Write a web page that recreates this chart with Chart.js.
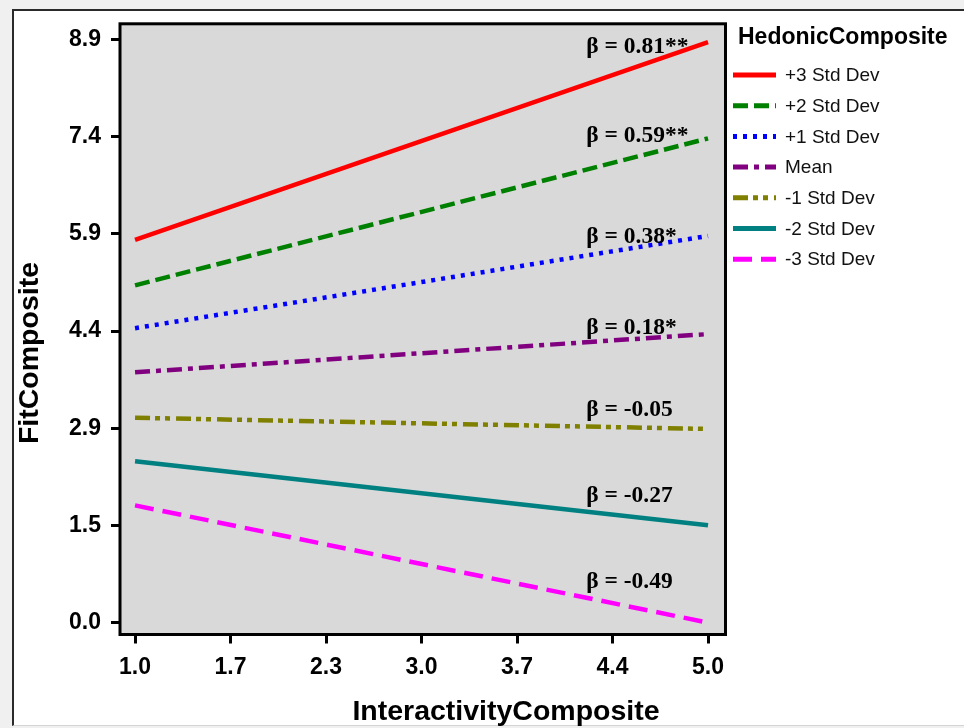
<!DOCTYPE html>
<html>
<head>
<meta charset="utf-8">
<script src="https://cdn.jsdelivr.net/npm/chart.js@4/dist/chart.umd.min.js"></script>
<style>
html, body { margin: 0; padding: 0; background: #f0f0f0; }
#frame { position: absolute; left: 12px; top: 9px; width: 950px; height: 714px; background: #fff;
         border-top: 2px solid #2a2a2a; border-left: 2px solid #2a2a2a; border-bottom: 1px solid #d4d4d4; }
#chart { position: absolute; left: 0; top: 0; }
</style>
</head>
<body>
<div id="frame"></div>
<canvas id="chart" width="964" height="728"></canvas>
<script>
// interactivity values at the two ends of each line
const xValues = [1, 5];

const seriesNames = ["+3 Std Dev", "+2 Std Dev", "+1 Std Dev", "Mean", "-1 Std Dev", "-2 Std Dev", "-3 Std Dev"];
const plus3 = [5.81, 8.81];
const plus2 = [5.12, 7.35];
const plus1 = [4.47, 5.87];
const mean = [3.80, 4.38];
const minus1 = [3.11, 2.94];
const minus2 = [2.45, 1.48];
const minus3 = [1.78, 0.0];

const betaText = ["β = 0.81**", "β = 0.59**", "β = 0.38*", "β = 0.18*", "β = -0.05", "β = -0.27", "β = -0.49"];
const betaX = 4.15;
const betaY = [8.74, 7.39, 5.86, 4.47, 3.23, 1.93, 0.62];

const xTickValues = [1, 1.6667, 2.3333, 3, 3.6667, 4.3333, 5];
const xTickLabels = ["1.0", "1.7", "2.3", "3.0", "3.7", "4.4", "5.0"];
const yTickValues = [0, 1.475, 2.95, 4.425, 5.9, 7.375, 8.85];
const yTickLabels = ["0.0", "1.5", "2.9", "4.4", "5.9", "7.4", "8.9"];

const colors = ["#ff0000", "#008000", "#0000ff", "#800080", "#808000", "#008080", "#ff00ff"];
const dashes = [[], [15, 6], [4, 6], [15, 6, 5, 6], [15, 5, 5, 5, 5, 6], [], [19, 9]];

const allSeries = [plus3, plus2, plus1, mean, minus1, minus2, minus3];

const plotFrame = {
    id: "plotFrame",
    beforeDatasetsDraw(chart) {
        const { ctx, chartArea: a } = chart;
        ctx.save();
        ctx.fillStyle = "#d9d9d9";
        ctx.fillRect(a.left, a.top, a.right - a.left, a.bottom - a.top);
        ctx.restore();
    },
    afterDatasetsDraw(chart) {
        const { ctx, chartArea: a, scales } = chart;
        ctx.save();
        ctx.strokeStyle = "#000";
        ctx.lineWidth = 3;
        ctx.strokeRect(a.left, a.top, a.right - a.left, a.bottom - a.top);

        // beta annotations
        ctx.font = "bold 23.5px 'Liberation Serif', 'Times New Roman', serif";
        ctx.fillStyle = "#000";
        ctx.textAlign = "left";
        ctx.textBaseline = "middle";
        betaText.forEach((t, i) => {
            ctx.fillText(t, scales.x.getPixelForValue(betaX), scales.y.getPixelForValue(betaY[i]));
        });
        ctx.restore();
    },
    afterDraw(chart) {
        const { ctx } = chart;
        ctx.save();
        // axis titles
        ctx.fillStyle = "#000";
        ctx.font = "bold 28.5px 'Liberation Sans', Arial, sans-serif";
        ctx.textAlign = "center";
        ctx.textBaseline = "middle";
        ctx.fillText("InteractivityComposite", 506, 712);
        ctx.save();
        ctx.translate(30, 353);
        ctx.rotate(-Math.PI / 2);
        ctx.fillText("FitComposite", 0, 0);
        ctx.restore();

        // legend
        ctx.textAlign = "left";
        ctx.font = "bold 23px 'Liberation Sans', Arial, sans-serif";
        ctx.fillText("HedonicComposite", 738, 38);
        ctx.font = "19px 'Liberation Sans', Arial, sans-serif";
        chart.data.datasets.forEach((ds, i) => {
            const y = 75 + i * 30.7;
            ctx.strokeStyle = ds.borderColor;
            ctx.lineWidth = 5;
            ctx.setLineDash(ds.borderDash);
            ctx.beginPath();
            ctx.moveTo(733, y);
            ctx.lineTo(776, y);
            ctx.stroke();
            ctx.setLineDash([]);
            ctx.fillStyle = "#111";
            ctx.fillText(ds.label, 785, y + 1);
        });
        ctx.restore();
    }
};

const tickFont = { family: "'Liberation Sans', Arial, sans-serif", size: 23, weight: "bold" };

new Chart(document.getElementById("chart"), {
    type: "line",
    data: {
        datasets: allSeries.map((s, i) => ({
            label: seriesNames[i],
            data: xValues.map((x, j) => ({ x: x, y: s[j] })),
            borderColor: colors[i],
            borderDash: dashes[i],
            borderWidth: 4.5,
            pointRadius: 0,
            fill: false
        }))
    },
    options: {
        responsive: false,
        animation: false,
        layout: { padding: { left: 0, top: 22, right: 238.5, bottom: 0 } },
        plugins: { legend: { display: false }, tooltip: { enabled: false } },
        scales: {
            x: {
                type: "linear",
                min: 0.895,
                max: 5.122,
                afterFit: s => { s.height = 93.5; },
                afterBuildTicks: s => { s.ticks = xTickValues.map(v => ({ value: v })); },
                grid: { drawOnChartArea: false, drawTicks: true, tickLength: 9, color: "#000", lineWidth: 3 },
                border: { display: false },
                ticks: { font: tickFont, color: "#000", padding: 10, maxRotation: 0,
                         callback: (v, i) => xTickLabels[i] }
            },
            y: {
                type: "linear",
                min: -0.18,
                max: 9.09,
                afterFit: s => { s.width = 120; },
                afterBuildTicks: s => { s.ticks = yTickValues.map(v => ({ value: v })); },
                grid: { drawOnChartArea: false, drawTicks: true, tickLength: 9, color: "#000", lineWidth: 3 },
                border: { display: false },
                ticks: { font: tickFont, color: "#000", padding: 10,
                         callback: (v, i) => yTickLabels[i] }
            }
        }
    },
    plugins: [plotFrame]
});
</script>
</body>
</html>
